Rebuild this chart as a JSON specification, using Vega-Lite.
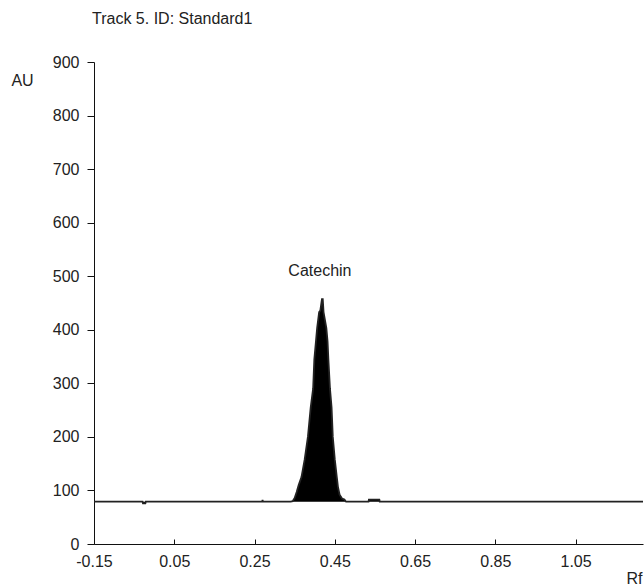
{
  "$schema": "https://vega.github.io/schema/vega-lite/v6.json",
  "width": 549,
  "height": 482,
  "autosize": {"type": "none"},
  "padding": {"left": 94, "top": 62, "right": 1, "bottom": 41},
  "background": "white",
  "config": {
    "view": {"stroke": null},
    "font": "Liberation Sans",
    "axis": {
      "grid": false,
      "domainColor": "#111",
      "tickColor": "#111",
      "labelColor": "#222",
      "titleColor": "#222",
      "labelFont": "Liberation Sans",
      "titleFont": "Liberation Sans",
      "labelFontSize": 16,
      "titleFontSize": 16,
      "titleFontWeight": "normal",
      "labelFlush": false,
      "labelOverlap": false
    }
  },
  "title": {
    "text": "Track 5. ID: Standard1",
    "anchor": "start",
    "frame": "group",
    "font": "Liberation Sans",
    "fontSize": 16,
    "fontWeight": "normal",
    "color": "#222",
    "offset": 27,
    "dx": -2
  },
  "datasets": {
    "trace": [
      {"rf": -0.15, "au": 79},
      {"rf": -0.029, "au": 79},
      {"rf": -0.028, "au": 76},
      {"rf": -0.022, "au": 76},
      {"rf": -0.021, "au": 79},
      {"rf": 0.269, "au": 79},
      {"rf": 0.27, "au": 82},
      {"rf": 0.271, "au": 79},
      {"rf": 0.34, "au": 79},
      {"rf": 0.345, "au": 80},
      {"rf": 0.35, "au": 86},
      {"rf": 0.355, "au": 97},
      {"rf": 0.36, "au": 110},
      {"rf": 0.367, "au": 125},
      {"rf": 0.375, "au": 158},
      {"rf": 0.383, "au": 200},
      {"rf": 0.39, "au": 255},
      {"rf": 0.396, "au": 290},
      {"rf": 0.399, "au": 345},
      {"rf": 0.403, "au": 378},
      {"rf": 0.406, "au": 403},
      {"rf": 0.411, "au": 433},
      {"rf": 0.414, "au": 436},
      {"rf": 0.418, "au": 457},
      {"rf": 0.42, "au": 457},
      {"rf": 0.422, "au": 433},
      {"rf": 0.429, "au": 403},
      {"rf": 0.432, "au": 378},
      {"rf": 0.434, "au": 345},
      {"rf": 0.438, "au": 290},
      {"rf": 0.442, "au": 255},
      {"rf": 0.445, "au": 200},
      {"rf": 0.45, "au": 158},
      {"rf": 0.455, "au": 125},
      {"rf": 0.458, "au": 106},
      {"rf": 0.462, "au": 92},
      {"rf": 0.468, "au": 85},
      {"rf": 0.474, "au": 83},
      {"rf": 0.478, "au": 79},
      {"rf": 0.534, "au": 79},
      {"rf": 0.535, "au": 83},
      {"rf": 0.561, "au": 83},
      {"rf": 0.562, "au": 79},
      {"rf": 1.218, "au": 79}
    ],
    "labels": [
      {"rf": 0.413, "au": 509, "label": "Catechin"}
    ]
  },
  "layer": [
    {
      "data": {"name": "trace"},
      "mark": {"type": "area", "color": "#000", "opacity": 1},
      "encoding": {
        "x": {
          "field": "rf",
          "type": "quantitative",
          "scale": {"domain": [-0.15, 1.218], "nice": false, "zero": false},
          "axis": {
            "values": [-0.15, 0.05, 0.25, 0.45, 0.65, 0.85, 1.05],
            "format": ".2f",
            "labelExpr": "replace(datum.label, '−', '-')",
            "tickSize": -5,
            "labelPadding": 14,
            "title": "Rf",
            "titleAnchor": "end",
            "titleAlign": "center",
            "titleX": 540,
            "titleY": 34,
            "titleBaseline": "middle"
          }
        },
        "y": {
          "field": "au",
          "type": "quantitative",
          "scale": {"domain": [0, 900], "nice": false},
          "axis": {
            "values": [0, 100, 200, 300, 400, 500, 600, 700, 800, 900],
            "tickSize": 7,
            "labelPadding": 8,
            "title": "AU",
            "titleAngle": 0,
            "titleAlign": "center",
            "titleBaseline": "middle",
            "titleX": -72,
            "titleY": 18
          }
        },
        "y2": {"datum": 79}
      }
    },
    {
      "data": {"name": "trace"},
      "mark": {"type": "line", "color": "#222", "strokeWidth": 1.8},
      "encoding": {
        "x": {"field": "rf", "type": "quantitative"},
        "y": {"field": "au", "type": "quantitative"}
      }
    },
    {
      "data": {"name": "labels"},
      "mark": {"type": "text", "font": "Liberation Sans", "fontSize": 16, "color": "#222", "baseline": "middle", "align": "center"},
      "encoding": {
        "x": {"field": "rf", "type": "quantitative"},
        "y": {"field": "au", "type": "quantitative"},
        "text": {"field": "label"}
      }
    }
  ]
}
